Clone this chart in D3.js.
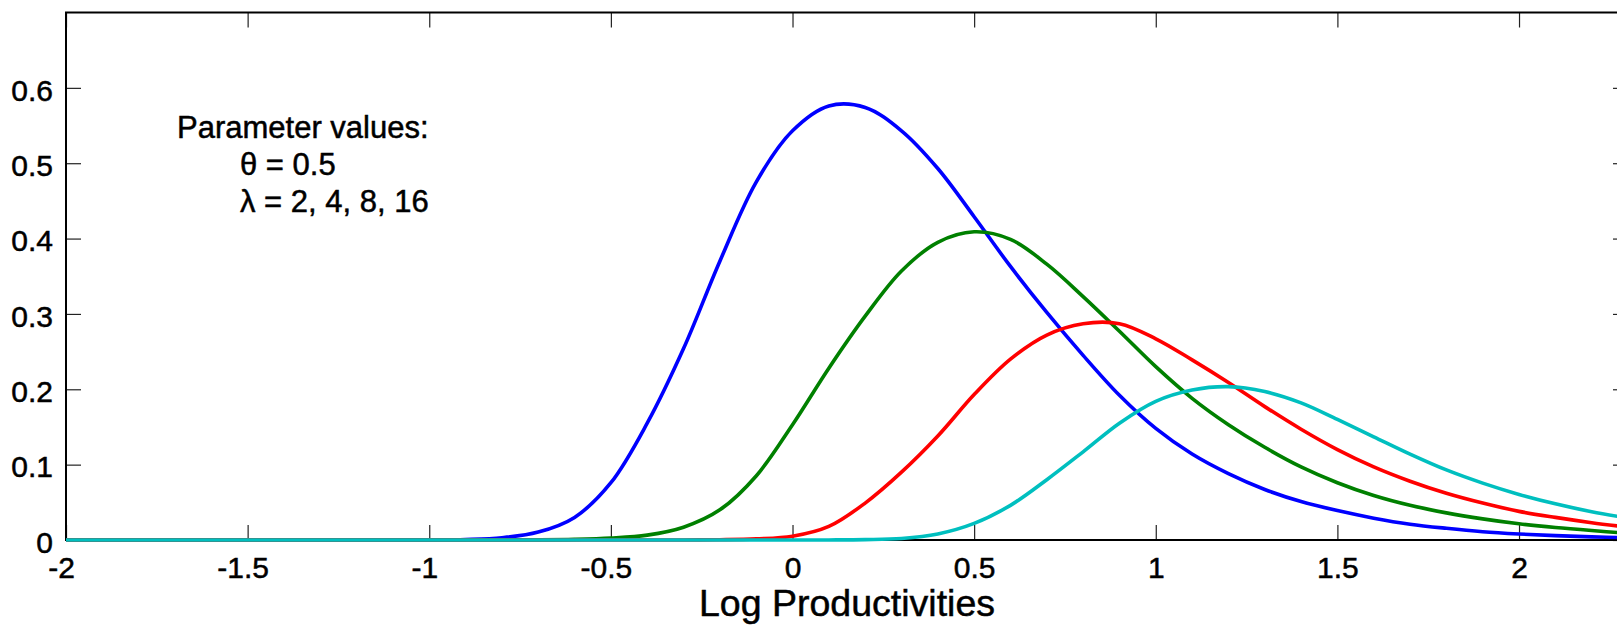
<!DOCTYPE html>
<html>
<head>
<meta charset="utf-8">
<script src="https://cdn.jsdelivr.net/npm/d3@7"></script>
<style>
  body { margin: 0; background: #ffffff; }
  svg { display: block; }
  text { font-family: "Liberation Sans", Arial, Helvetica, sans-serif; fill: #000; }
</style>
</head>
<body>
<svg id="chart" width="1617" height="628"></svg>
<script>
// ---- data ----
const logProductivity = [-2.0, -1.5, -1.2, -1.1, -1.0, -0.9, -0.8, -0.7, -0.6, -0.5, -0.4, -0.3, -0.2, -0.1,
  0.0, 0.1, 0.2, 0.3, 0.4, 0.5, 0.6, 0.7, 0.8, 0.9, 1.0, 1.1, 1.2, 1.3, 1.4, 1.5, 1.6, 1.7, 1.8, 1.9,
  2.0, 2.1, 2.2, 2.3];

const densityLambda2 = [0, 0, 0, 0, 0.0001, 0.0007, 0.003, 0.0105, 0.030, 0.076, 0.155, 0.254, 0.370, 0.475,
  0.543, 0.576, 0.574, 0.543, 0.493, 0.429, 0.363, 0.302, 0.245, 0.192, 0.148, 0.114, 0.088, 0.067,
  0.051, 0.039, 0.029, 0.021, 0.0155, 0.011, 0.008, 0.0058, 0.0042, 0.003];

const densityLambda4 = [0, 0, 0, 0, 0, 0, 0.0001, 0.0002, 0.0008, 0.0025, 0.0065, 0.017, 0.040, 0.085,
  0.153, 0.228, 0.297, 0.357, 0.395, 0.409, 0.399, 0.366, 0.323, 0.277, 0.230, 0.188, 0.153, 0.123,
  0.097, 0.076, 0.059, 0.046, 0.036, 0.028, 0.0215, 0.0165, 0.0125, 0.009];

const densityLambda8 = [0, 0, 0, 0, 0, 0, 0, 0, 0, 0, 0, 0.0001, 0.0004, 0.0015,
  0.005, 0.018, 0.049, 0.090, 0.138, 0.193, 0.240, 0.272, 0.287, 0.287, 0.267, 0.239, 0.209, 0.177,
  0.147, 0.120, 0.097, 0.078, 0.062, 0.049, 0.038, 0.030, 0.023, 0.017];

const densityLambda16 = [0, 0, 0, 0, 0, 0, 0, 0, 0, 0, 0, 0, 0, 0,
  0, 0.0001, 0.0005, 0.002, 0.008, 0.022, 0.046, 0.080, 0.117, 0.155, 0.184, 0.199, 0.2035, 0.197,
  0.182, 0.160, 0.137, 0.114, 0.093, 0.0755, 0.0605, 0.048, 0.0375, 0.029];

const xTickValues = [-2, -1.5, -1, -0.5, 0, 0.5, 1, 1.5, 2];
const yTickValues = [0, 0.1, 0.2, 0.3, 0.4, 0.5, 0.6];
const xDomain = [-2, 2.3];
const yDomain = [0, 0.7];
const xAxisTitle = "Log Productivities";
const annotationLines = ["Parameter values:", "\u03B8 = 0.5", "\u03BB = 2, 4, 8, 16"];

// ---- styling ----
const seriesList = [densityLambda2, densityLambda4, densityLambda8, densityLambda16];
const seriesColors = ["#0000ff", "#008000", "#ff0000", "#00bfbf"];

const svg = d3.select("#chart");
svg.append("rect").attr("width", 1617).attr("height", 628).attr("fill", "#fff");

const plotLeft = 66, plotRight = 1628, plotTop = 12.5, plotBottom = 540;
const x = d3.scaleLinear().domain(xDomain).range([plotLeft, plotRight]);
const y = d3.scaleLinear().domain(yDomain).range([plotBottom, plotTop]);

const tickLen = 15;
const labelFont = "Liberation Sans, Arial, sans-serif";
const fmtTick = d => String(d);   // plain hyphen-minus as in the reference

// bottom axis (ticks inward, labels below)
const xAxisBottom = d3.axisBottom(x).tickValues(xTickValues).tickSizeInner(-tickLen).tickSizeOuter(0)
  .tickPadding(16.5).tickFormat(fmtTick);
const gB = svg.append("g").attr("transform", `translate(0,${plotBottom})`).call(xAxisBottom);
gB.select(".domain").remove();
gB.selectAll(".tick line").attr("stroke", "#222").attr("stroke-width", 1.2);
gB.selectAll(".tick text")
  .attr("font-size", 30).attr("font-family", labelFont).attr("fill", "#000")
  .attr("stroke", "#000").attr("stroke-width", 0.5)
  .attr("dy", "0.71em")
  .attr("dx", d => d < 0 ? -5 : 0);

// top axis (ticks only)
const xAxisTop = d3.axisTop(x).tickValues(xTickValues).tickSizeInner(-tickLen).tickSizeOuter(0).tickFormat("");
const gT = svg.append("g").attr("transform", `translate(0,${plotTop})`).call(xAxisTop);
gT.select(".domain").remove();
gT.selectAll(".tick line").attr("stroke", "#222").attr("stroke-width", 1.2);

// left axis
const yAxisLeft = d3.axisLeft(y).tickValues(yTickValues).tickSizeInner(-tickLen).tickSizeOuter(0)
  .tickPadding(13).tickFormat(fmtTick);
const gL = svg.append("g").attr("transform", `translate(${plotLeft},0)`).call(yAxisLeft);
gL.select(".domain").remove();
gL.selectAll(".tick line").attr("stroke", "#222").attr("stroke-width", 1.2);
gL.selectAll(".tick text")
  .attr("font-size", 30).attr("font-family", labelFont).attr("fill", "#000")
  .attr("stroke", "#000").attr("stroke-width", 0.5)
  .attr("dy", "0.41em");

// right axis (ticks only)
const yAxisRight = d3.axisRight(y).tickValues(yTickValues).tickSizeInner(-tickLen).tickSizeOuter(0).tickFormat("");
const gR = svg.append("g").attr("transform", `translate(${plotRight},0)`).call(yAxisRight);
gR.select(".domain").remove();
gR.selectAll(".tick line").attr("stroke", "#222").attr("stroke-width", 1.2);

// box
svg.append("rect")
  .attr("x", plotLeft).attr("y", plotTop).attr("width", plotRight - plotLeft).attr("height", plotBottom - plotTop)
  .attr("fill", "none").attr("stroke", "#000").attr("stroke-width", 2);

// curves
const line = d3.line()
  .x((d, i) => x(logProductivity[i]))
  .y(d => y(d))
  .curve(d3.curveCatmullRom.alpha(0.5));

svg.append("g").selectAll("path")
  .data(seriesList)
  .join("path")
  .attr("d", d => line(d))
  .attr("fill", "none")
  .attr("stroke", (d, i) => seriesColors[i])
  .attr("stroke-width", 3.6)
  .attr("stroke-linejoin", "round");

// x-axis title
svg.append("text")
  .attr("x", (plotLeft + plotRight) / 2).attr("y", 616)
  .attr("text-anchor", "middle")
  .attr("font-size", 37.5)
  .attr("stroke", "#000").attr("stroke-width", 0.5)
  .text(xAxisTitle);

// annotation
const ann = svg.append("text").attr("font-size", 31)
  .attr("stroke", "#000").attr("stroke-width", 0.5);
ann.append("tspan").attr("x", 177).attr("y", 138).text(annotationLines[0]);
ann.append("tspan").attr("x", 240).attr("y", 175).text(annotationLines[1]);
ann.append("tspan").attr("x", 240).attr("y", 212).text(annotationLines[2]);
</script>
</body>
</html>
